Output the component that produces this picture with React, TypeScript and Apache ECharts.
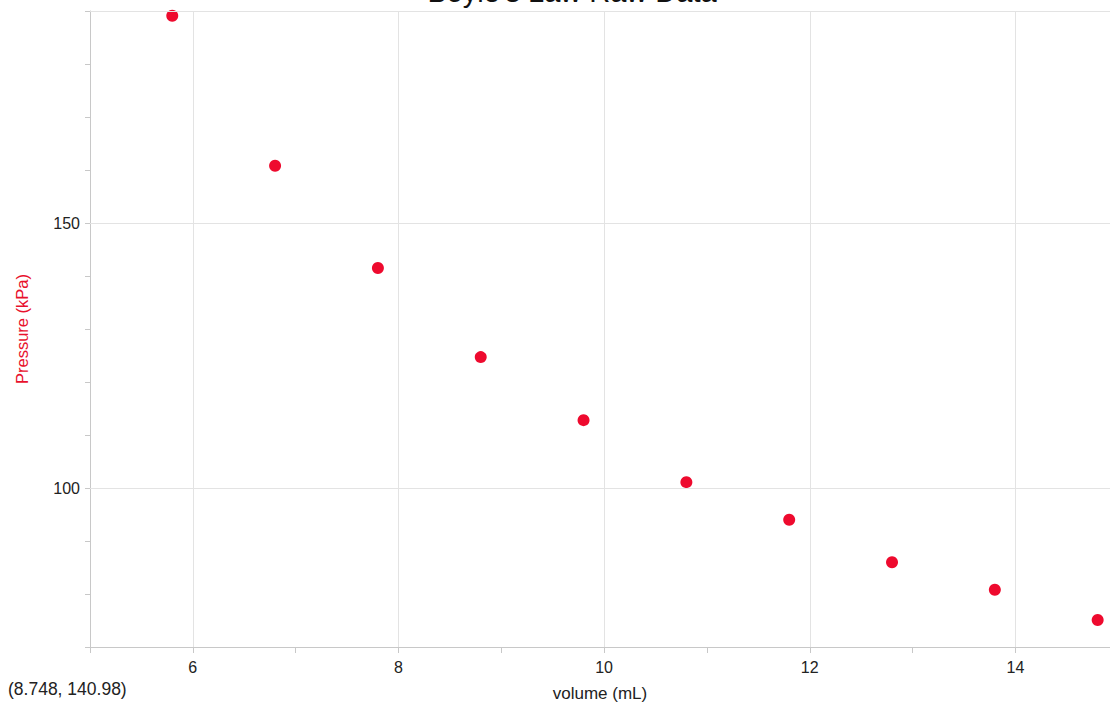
import React, { useEffect, useRef } from "react";
import * as echarts from "echarts";

const titleText = "Boyle's Law Raw Data";
const coordText = "(8.748, 140.98)";
const xName = "volume (mL)";
const yName = "Pressure (kPa)";

const volumes = [5.8, 6.8, 7.8, 8.8, 9.8, 10.8, 11.8, 12.8, 13.8, 14.8];
const pressures = [189.1, 160.8, 141.5, 124.7, 112.8, 101.1, 94.0, 86.0, 80.8, 75.1];

const xGridValues = [6, 8, 10, 12, 14];
const yGridValues = [100, 150, 190];

const X_MIN = 5;
const X_MAX = 14.92;
const Y_MIN = 70;
const Y_MAX = 190;

const FONT = "'Liberation Sans', Arial, sans-serif";

export default function App() {
  const ref = useRef<HTMLDivElement>(null);

  useEffect(() => {
    document.body.style.margin = "0";
    if (!ref.current) return;
    const chart = echarts.init(ref.current, undefined, { renderer: "svg" });
    const gridColor = "#e3e3e3";
    const axisColor = "#c8c8c8";
    chart.setOption({
      animation: false,
      backgroundColor: "#ffffff",
      textStyle: { fontFamily: FONT },
      grid: {
        left: 90,
        right: 0,
        top: 11,
        bottom: 55,
        containLabel: false,
        outerBoundsMode: "none",
      },
      xAxis: {
        type: "value",
        min: X_MIN,
        max: X_MAX,
        interval: 1,
        name: xName,
        nameLocation: "middle",
        nameGap: 38,
        nameTextStyle: { color: "#222", fontSize: 17, lineHeight: 17, fontFamily: FONT },
        axisLine: { show: true, lineStyle: { color: axisColor, width: 1 } },
        axisTick: { show: true, length: 6, lineStyle: { color: axisColor } },
        splitLine: { show: false },
        axisLabel: {
          color: "#222",
          fontSize: 16,
          fontFamily: FONT,
          margin: 12,
          showMaxLabel: false,
          formatter: (v: number) => (Number.isInteger(v) && v % 2 === 0 ? String(v) : ""),
        },
      },
      yAxis: {
        type: "value",
        min: Y_MIN,
        max: Y_MAX,
        interval: 10,
        name: yName,
        nameLocation: "middle",
        nameGap: 60,
        nameTextStyle: { color: "#e8112d", fontSize: 16.5, fontFamily: FONT },
        axisLine: { show: true, lineStyle: { color: axisColor, width: 1 } },
        axisTick: { show: true, length: 5, lineStyle: { color: axisColor } },
        splitLine: { show: false },
        axisLabel: {
          color: "#222",
          fontSize: 16,
          fontFamily: FONT,
          margin: 10,
          formatter: (v: number) => (v % 50 === 0 ? String(v) : ""),
        },
      },
      series: [
        {
          type: "line",
          data: [],
          z: 1,
          silent: true,
          markLine: {
            silent: true,
            symbol: "none",
            label: { show: false },
            lineStyle: { color: gridColor, width: 1, type: "solid" },
            data: [
              ...xGridValues.map((v) => ({ xAxis: v })),
              ...yGridValues.map((v) => ({ yAxis: v })),
            ],
          },
        },
        {
          type: "scatter",
          z: 3,
          symbol: "circle",
          symbolSize: 12,
          itemStyle: { color: "#ee0a2e", opacity: 1 },
          data: volumes.map((v, i) => [v, pressures[i]]),
        },
      ],
      graphic: [
        {
          type: "text",
          style: {
            text: titleText,
            x: 572,
            y: 6,
            textAlign: "center",
            textVerticalAlign: "bottom",
            fontSize: 29,
            fontFamily: FONT,
            fill: "#111",
          },
        },
        {
          type: "text",
          style: {
            text: coordText,
            x: 8,
            y: 689,
            textAlign: "left",
            textVerticalAlign: "middle",
            fontSize: 17.5,
            fontFamily: FONT,
            fill: "#222",
          },
        },
      ],
    });
    return () => chart.dispose();
  }, []);

  return (
    <div
      ref={ref}
      style={{ position: "absolute", left: 0, top: 0, width: 1110, height: 702 }}
    />
  );
}
